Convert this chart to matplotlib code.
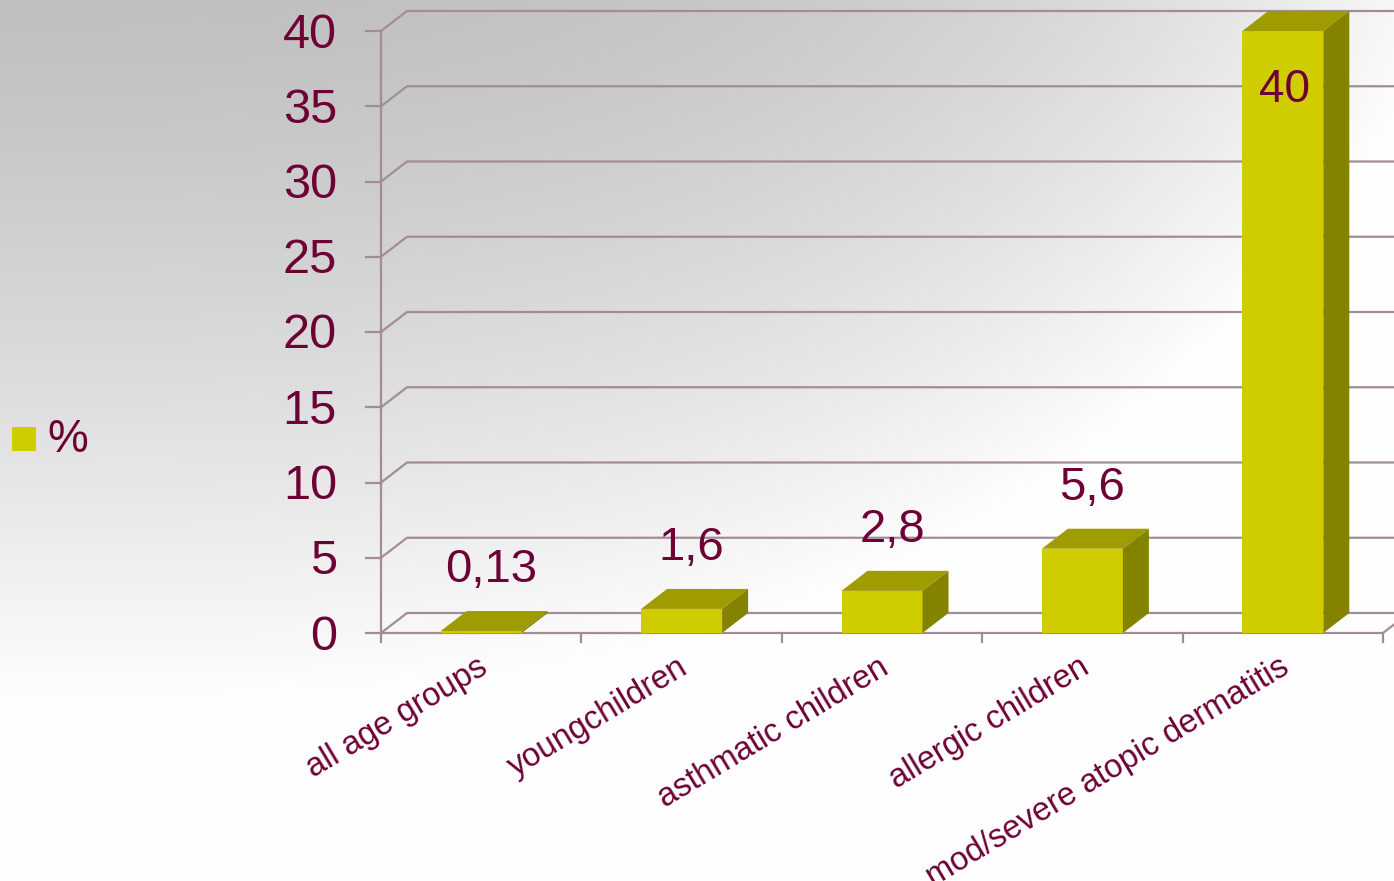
import matplotlib
matplotlib.use('Agg')
import matplotlib.pyplot as plt
import numpy as np
from matplotlib.patches import Polygon

plt.rcParams['font.family'] = ['Liberation Sans', 'DejaVu Sans']

# data
categories = ['all age groups', 'youngchildren', 'asthmatic children',
              'allergic children', 'mod/severe atopic dermatitis']
values = [0.13, 1.6, 2.8, 5.6, 40]
value_labels = ['0,13', '1,6', '2,8', '5,6', '40']
y_ticks = [0, 5, 10, 15, 20, 25, 30, 35, 40]
series_name = '%'

TEXT = '#6d0035'
GRID = '#a38d95'
FRONT = '#cfcc00'
TOP = '#9e9c00'
SIDE = '#838300'

W, H = 1394, 881
fig = plt.figure(figsize=(W / 100, H / 100), dpi=100)

# background gradient
bg = fig.add_axes([0, 0, 1, 1])
xx, yy = np.meshgrid(np.arange(W), np.arange(H))
d = (xx / 1450.0) ** 3 + (yy / 700.0) ** 1.25
shade = (192 + 62 * np.clip(d, 0, 1)) / 255.0
bg.imshow(np.dstack([shade] * 3), extent=[0, W, H, 0], aspect='auto')
bg.set_xlim(0, W)
bg.set_ylim(H, 0)
bg.axis('off')

# plot area in pixels: x 381..1383, y 633 (0) .. 31 (40)
left, right, base, top = 381, 1383, 633, 31
ax = fig.add_axes([left / W, (H - base) / H, (right - left) / W, (base - top) / H])
ax.patch.set_alpha(0)
ax.axis('off')
n = len(categories)
ax.set_xlim(0, n)
ax.set_ylim(0, max(y_ticks))

px_x = n / (right - left)          # data units per pixel, x
px_y = max(y_ticks) / (base - top)  # data units per pixel, y
dx, dy = 26 * px_x, 20 * px_y       # depth offset
x_edge = (W - left) * px_x

# walls / gridlines
for v in y_ticks:
    ax.plot([0, dx, x_edge], [v, v + dy, v + dy], color=GRID, lw=1.6,
            clip_on=False, zorder=1, solid_capstyle='butt')
    ax.plot([-15 * px_x, 0], [v, v], color=GRID, lw=1.6, clip_on=False, zorder=1)
    ax.text(-44 * px_x, v - 4 * px_y, str(v), ha='right', va='center', fontsize=35,
            color=TEXT, clip_on=False)
ax.plot([0, 0], [0, max(y_ticks)], color=GRID, lw=1.6, clip_on=False, zorder=1)
ax.plot([0, n, n + dx], [0, 0, dy], color=GRID, lw=1.6, clip_on=False, zorder=1)
for i in range(n + 1):
    ax.plot([i, i], [0, -9 * px_y], color=GRID, lw=1.6, clip_on=False, zorder=1)

# bars
bw = 81 * px_x
for i, (v, lab) in enumerate(zip(values, value_labels)):
    x0 = i + 0.5 - bw / 2
    x1 = x0 + bw
    ax.add_patch(Polygon([(x0, 0), (x1, 0), (x1, v), (x0, v)], closed=True,
                         facecolor=FRONT, edgecolor='none', zorder=3, clip_on=False))
    ax.add_patch(Polygon([(x0, v), (x1, v), (x1 + dx, v + dy), (x0 + dx, v + dy)],
                         closed=True, facecolor=TOP, edgecolor='none', zorder=3,
                         clip_on=False))
    ax.add_patch(Polygon([(x1, 0), (x1 + dx, dy), (x1 + dx, v + dy), (x1, v)],
                         closed=True, facecolor=SIDE, edgecolor='none', zorder=3,
                         clip_on=False))
    if v + dy + 70 * px_y > max(y_ticks):
        ax.text(i + 0.5 + 2 * px_x, v - 37 * px_y, lab, ha='center', va='top',
                fontsize=33, color=TEXT, zorder=5)
    else:
        ax.text(i + 0.5 + 10 * px_x, v + dy + 29 * px_y, lab, ha='center', va='baseline',
                fontsize=34, color=TEXT, zorder=5)

# category labels
for i, cat in enumerate(categories):
    ax.text(i + 0.5 - 4 * px_x, -19 * px_y, cat, ha='right', va='top',
            rotation=31, rotation_mode='anchor', fontsize=23.5, color=TEXT,
            clip_on=False)

# legend
bg.add_patch(plt.Rectangle((12, 427), 24, 24, facecolor=FRONT, edgecolor='none'))
bg.text(47, 440, series_name, ha='left', va='center', fontsize=33, color=TEXT)

fig.savefig('out.png', dpi=100)
